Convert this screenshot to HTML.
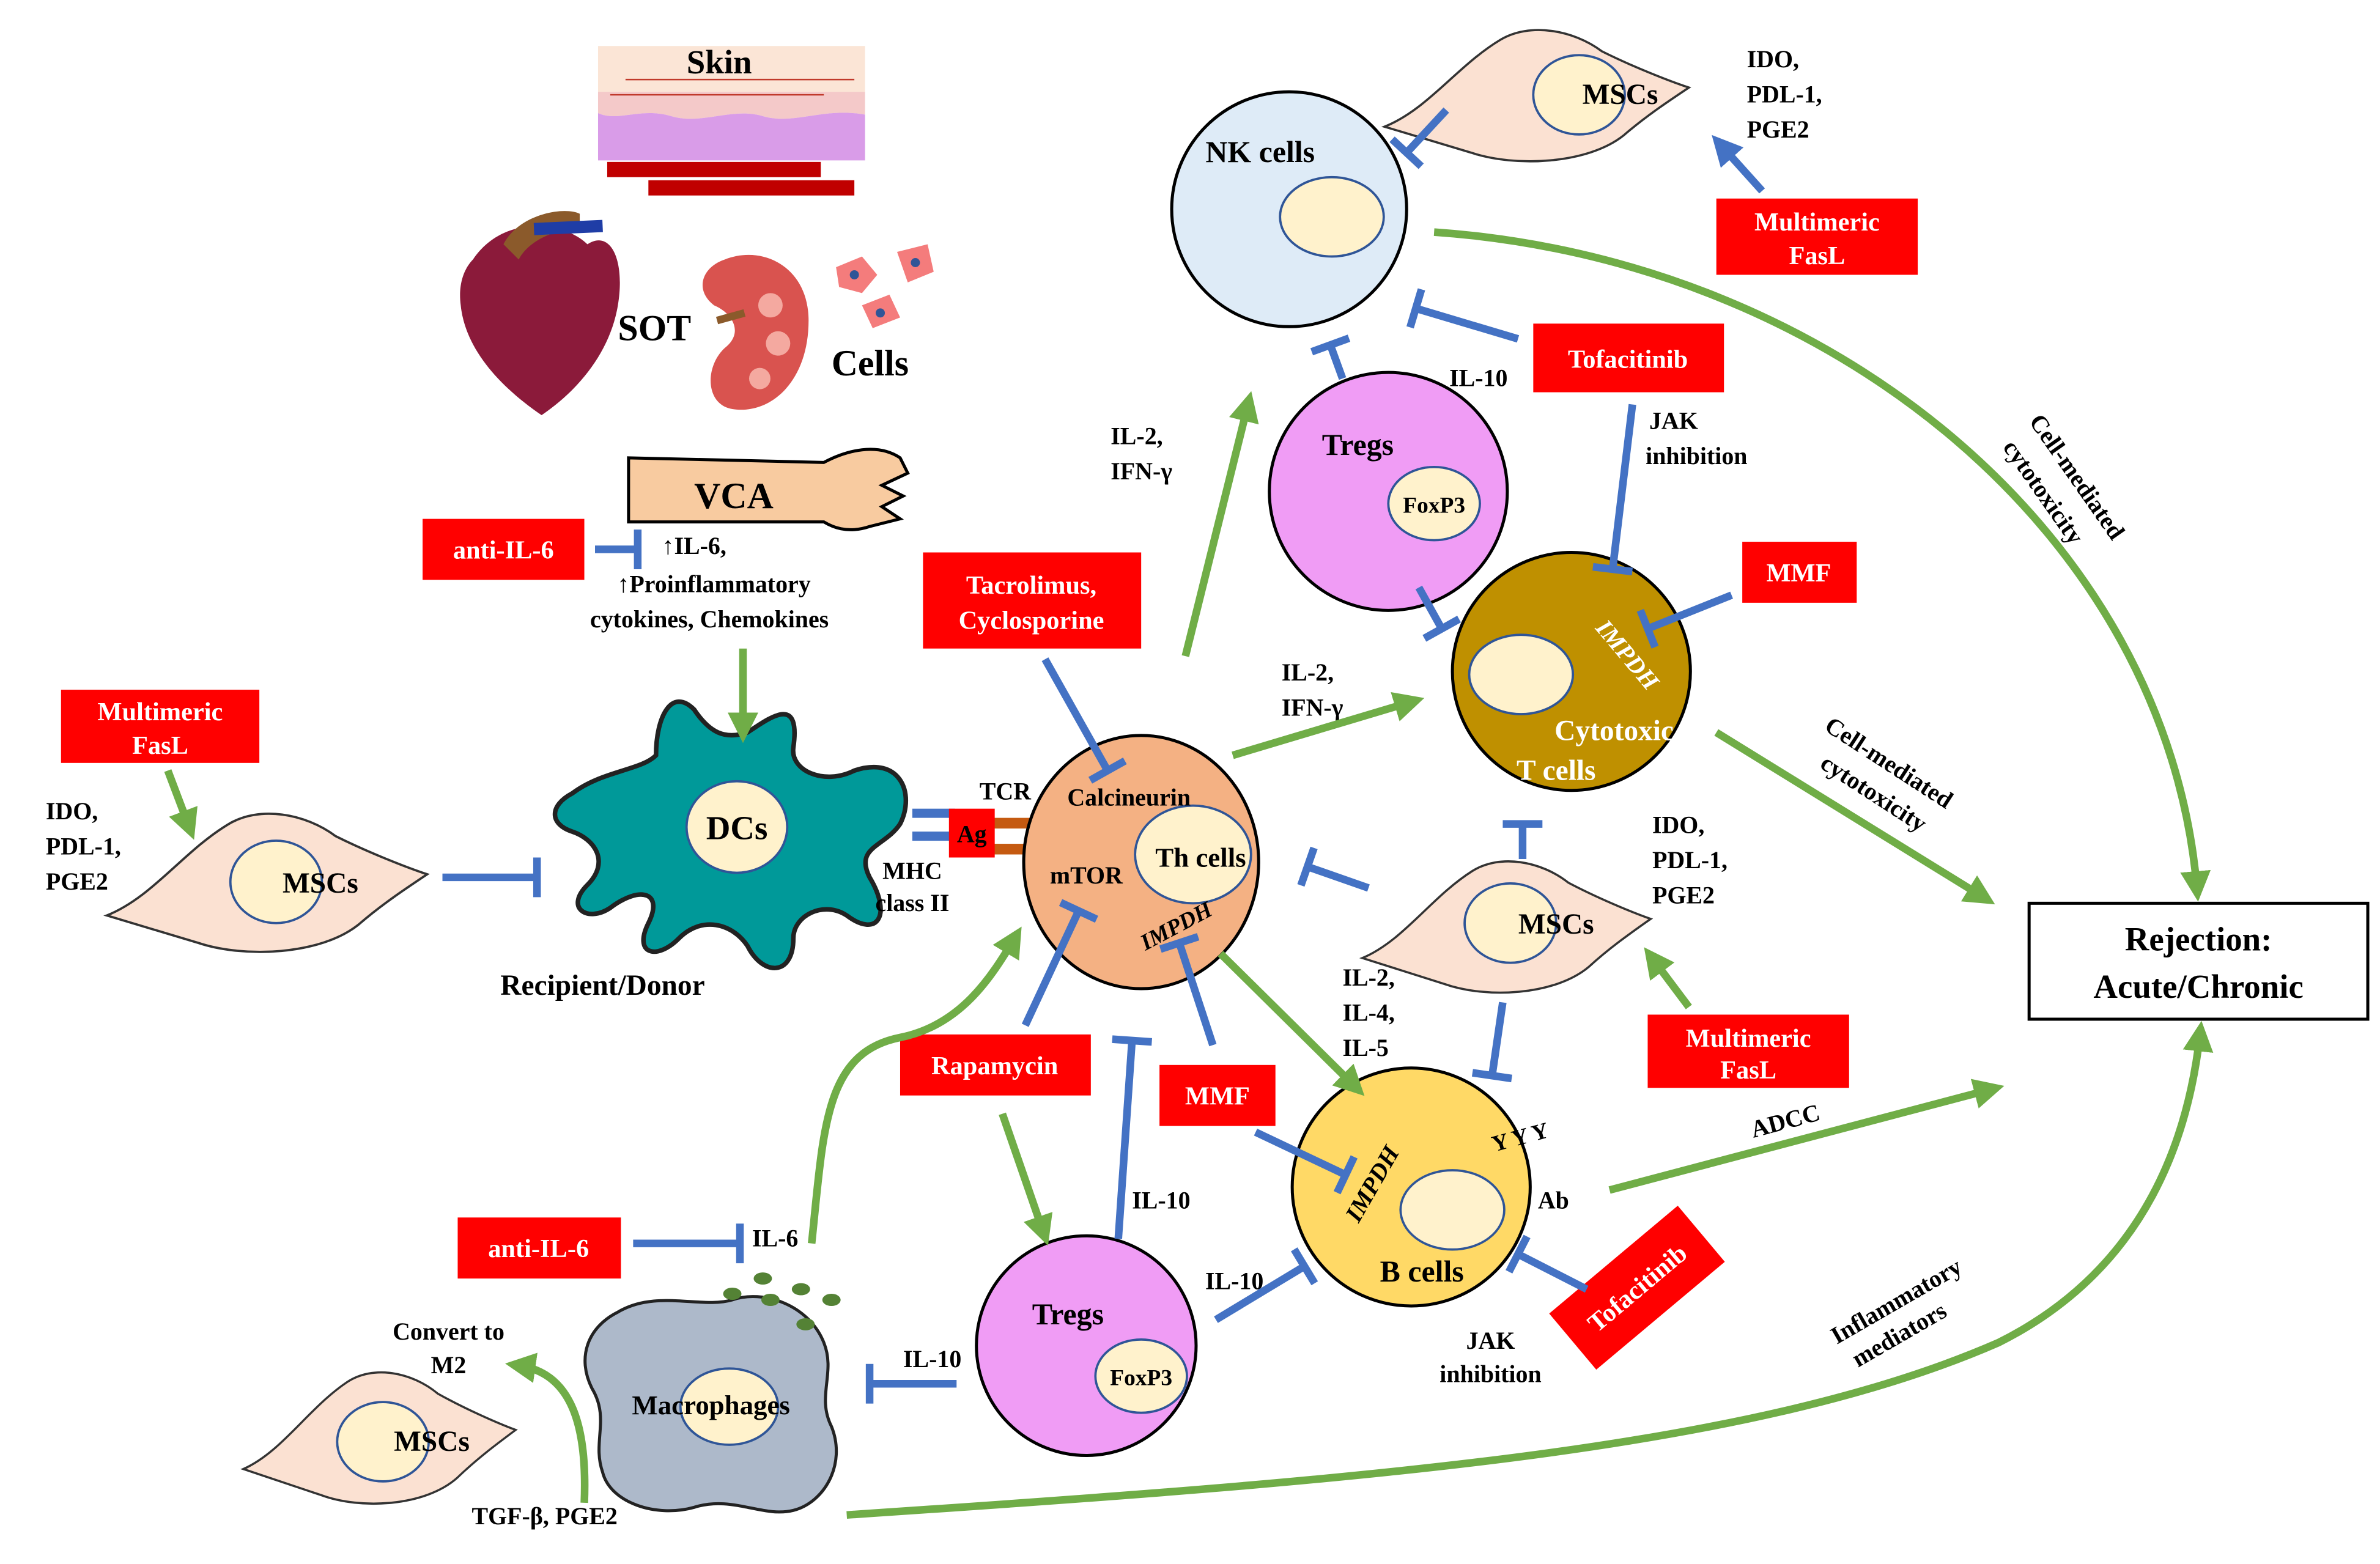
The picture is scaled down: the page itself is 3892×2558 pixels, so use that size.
<!DOCTYPE html>
<html><head><meta charset="utf-8"><style>
html,body{margin:0;padding:0;background:#fff;}
svg{display:block;}
text{font-family:"Liberation Serif",serif;font-weight:bold;fill:#000;}
.w{fill:#fff;}
</style></head><body>
<svg id="s" width="3892" height="2558" viewBox="0 0 1560 1025" xmlns="http://www.w3.org/2000/svg">
<defs>
<marker id="ga" markerWidth="4" markerHeight="4" refX="2.2" refY="2" orient="auto" markerUnits="strokeWidth"><path d="M0,0 L4,2 L0,4 z" fill="#70ad47"/></marker>
<marker id="ba" markerWidth="4" markerHeight="4" refX="2.2" refY="2" orient="auto" markerUnits="strokeWidth"><path d="M0,0 L4,2 L0,4 z" fill="#4472c4"/></marker>
<g id="msc"><path d="M-110,22 C-80,10 -60,-20 -30,-38 C-10,-50 20,-45 40,-30 C60,-20 85,-10 100,-5 C85,5 70,15 55,28 C30,48 -20,50 -50,40 C-70,34 -90,28 -110,22 z" fill="#fbe1d2" stroke="#333" stroke-width="1.5"/></g>
</defs>

<!-- Skin -->
<rect x="392" y="25" width="175" height="103" fill="#fff"/>
<path d="M392,30 L567,30 L567,60 L392,60 z" fill="#fbe5d6"/>
<path d="M392,60 L567,60 L567,75 C540,70 520,82 500,76 C480,70 460,82 440,76 C420,70 405,80 392,74 z" fill="#f4c9c9"/>
<path d="M392,74 C405,80 420,70 440,76 C460,82 480,70 500,76 C520,82 540,70 567,75 L567,105 L392,105 z" fill="#d99ce8"/>
<rect x="398" y="106" width="140" height="10" fill="#c00000"/><rect x="425" y="118" width="135" height="10" fill="#c00000"/>
<line x1="410" y1="52" x2="560" y2="52" stroke="#c0392b" stroke-width="1"/><line x1="400" y1="62" x2="540" y2="62" stroke="#c0392b" stroke-width="1"/>
<text x="450" y="48" font-size="22">Skin</text>
<!-- Heart -->
<path d="M310,170 C330,140 370,145 385,160 C400,150 410,170 405,200 C400,230 380,255 355,272 C330,255 305,230 302,200 C300,185 305,175 310,170 z" fill="#8b1a3a"/>
<path d="M330,160 C340,140 370,135 380,140 L380,150 C360,150 345,160 340,170 z" fill="#8b5a2b"/>
<path d="M350,150 L395,148" stroke="#1f3da6" stroke-width="8"/>
<text x="405" y="223" font-size="24">SOT</text>
<!-- Kidney -->
<path d="M475,170 C500,160 530,175 530,210 C530,250 505,272 480,268 C462,265 462,240 475,228 C488,218 480,205 468,200 C455,190 460,175 475,170 z" fill="#d9534f"/>
<circle cx="505" cy="200" r="8" fill="#f4a9a0"/><circle cx="510" cy="225" r="8" fill="#f4a9a0"/><circle cx="498" cy="248" r="7" fill="#f4a9a0"/>
<path d="M470,210 L488,205" stroke="#8b5a2b" stroke-width="5"/>
<!-- Cells -->
<path d="M548,175 L565,168 L575,180 L565,192 L550,188 z" fill="#f47c7c"/><circle cx="560" cy="180" r="3" fill="#2f5597"/>
<path d="M588,165 L608,160 L612,178 L595,185 z" fill="#f47c7c"/><circle cx="600" cy="172" r="3" fill="#2f5597"/>
<path d="M565,200 L583,193 L590,208 L572,215 z" fill="#f47c7c"/><circle cx="577" cy="205" r="3" fill="#2f5597"/>
<text x="545" y="246" font-size="24">Cells</text>
<!-- VCA arm -->
<path d="M412,300 L540,303 C555,295 575,290 590,300 L595,310 L578,318 L592,325 L578,332 L590,340 L570,345 C555,350 545,345 540,342 L412,342 z" fill="#f8cba0" stroke="#000" stroke-width="2"/>
<text x="455" y="333" font-size="24">VCA</text>

<!-- red boxes -->
<g fill="#ff0000">
<rect x="277" y="340" width="106" height="40"/>
<rect x="40" y="452" width="130" height="48"/>
<rect x="605" y="362" width="143" height="63"/>
<rect x="1005" y="212" width="125" height="45"/>
<rect x="1125" y="130" width="132" height="50"/>
<rect x="1142" y="355" width="75" height="40"/>
<rect x="1080" y="665" width="132" height="48"/>
<rect x="590" y="678" width="125" height="40"/>
<rect x="760" y="698" width="76" height="40"/>
<rect x="300" y="798" width="107" height="40"/>
<rect x="1018" y="820" width="110" height="48" transform="rotate(-40 1073 844)"/>
</g>
<g font-size="17">
<text class="w" x="330" y="366" text-anchor="middle">anti-IL-6</text>
<text class="w" x="105" y="472" text-anchor="middle">Multimeric</text><text class="w" x="105" y="494" text-anchor="middle">FasL</text>
<text class="w" x="676" y="389" text-anchor="middle">Tacrolimus,</text><text class="w" x="676" y="412" text-anchor="middle">Cyclosporine</text>
<text class="w" x="1067" y="241" text-anchor="middle">Tofacitinib</text>
<text class="w" x="1191" y="151" text-anchor="middle">Multimeric</text><text class="w" x="1191" y="173" text-anchor="middle">FasL</text>
<text class="w" x="1179" y="381" text-anchor="middle">MMF</text>
<text class="w" x="1146" y="686" text-anchor="middle">Multimeric</text><text class="w" x="1146" y="707" text-anchor="middle">FasL</text>
<text class="w" x="652" y="704" text-anchor="middle">Rapamycin</text>
<text class="w" x="798" y="724" text-anchor="middle">MMF</text>
<text class="w" x="353" y="824" text-anchor="middle">anti-IL-6</text>
<text class="w" x="1073" y="850" text-anchor="middle" transform="rotate(-40 1073 844)">Tofacitinib</text>
</g>

<!-- DC -->
<path d="M375,520 C395,505 420,505 430,495 C430,470 440,450 455,465 C465,480 475,485 490,480 C505,470 525,455 520,490 C518,505 540,515 560,505 C590,495 600,520 590,540 C580,555 560,555 570,575 C585,600 575,615 555,600 C540,590 520,600 520,615 C520,640 500,640 490,620 C480,605 460,600 445,615 C430,630 415,625 425,605 C435,585 420,580 400,595 C385,605 370,595 385,580 C400,565 390,550 375,545 C360,540 360,528 375,520 z" fill="#009999" stroke="#222" stroke-width="3"/>
<ellipse cx="483" cy="542" rx="33" ry="30" fill="#fff2cc" stroke="#2f5597" stroke-width="1.5"/>
<text x="483" y="550" font-size="22" text-anchor="middle">DCs</text>
<text x="395" y="652" font-size="19" text-anchor="middle">Recipient/Donor</text>
<rect x="598" y="530" width="28" height="6" fill="#4472c4"/><rect x="598" y="545" width="28" height="6" fill="#4472c4"/>
<rect x="650" y="536" width="28" height="7" fill="#c55a11"/><rect x="650" y="553" width="28" height="7" fill="#c55a11"/>
<rect x="622" y="530" width="30" height="32" fill="#ff0000"/>
<text x="637" y="552" font-size="16" text-anchor="middle">Ag</text>
<text x="642" y="524" font-size="16">TCR</text>
<text x="598" y="576" font-size="16" text-anchor="middle">MHC</text><text x="598" y="597" font-size="16" text-anchor="middle">class II</text>

<!-- cells -->
<ellipse cx="748" cy="565" rx="77" ry="83" fill="#f4b183" stroke="#000" stroke-width="2"/>
<ellipse cx="782" cy="560" rx="38" ry="32" fill="#fff2cc" stroke="#2f5597" stroke-width="1.5"/>
<text x="740" y="528" font-size="16" text-anchor="middle">Calcineurin</text>
<text x="787" y="568" font-size="18" text-anchor="middle">Th cells</text>
<text x="712" y="579" font-size="16" text-anchor="middle">mTOR</text>
<text x="770" y="612" font-size="15" text-anchor="middle" font-style="italic" transform="rotate(-28 770 605)">IMPDH</text>

<circle cx="845" cy="137" r="77" fill="#deebf7" stroke="#000" stroke-width="2"/>
<ellipse cx="873" cy="142" rx="34" ry="26" fill="#fff2cc" stroke="#2f5597" stroke-width="1.5"/>
<text x="826" y="106" font-size="20" text-anchor="middle">NK cells</text>

<circle cx="910" cy="322" r="78" fill="#f09cf5" stroke="#000" stroke-width="2"/>
<ellipse cx="940" cy="330" rx="30" ry="24" fill="#fff2cc" stroke="#2f5597" stroke-width="1.5"/>
<text x="890" y="298" font-size="20" text-anchor="middle">Tregs</text>
<text x="940" y="336" font-size="15" text-anchor="middle">FoxP3</text>

<circle cx="1030" cy="440" r="78" fill="#bf9000" stroke="#000" stroke-width="2"/>
<ellipse cx="997" cy="442" rx="34" ry="26" fill="#fff2cc" stroke="#2f5597" stroke-width="1.5"/>
<text class="w" x="1068" y="435" font-size="16" text-anchor="middle" font-style="italic" transform="rotate(50 1068 428)">IMPDH</text>
<text class="w" x="1058" y="485" font-size="19" text-anchor="middle">Cytotoxic</text>
<text class="w" x="1020" y="511" font-size="19" text-anchor="middle">T cells</text>

<circle cx="925" cy="778" r="78" fill="#ffd966" stroke="#000" stroke-width="2"/>
<ellipse cx="952" cy="793" rx="34" ry="26" fill="#fff2cc" stroke="#2f5597" stroke-width="1.5"/>
<text x="898" y="782" font-size="16" text-anchor="middle" font-style="italic" transform="rotate(-60 898 775)">IMPDH</text>
<text x="932" y="840" font-size="20" text-anchor="middle">B cells</text>
<text x="978" y="752" font-size="15" transform="rotate(-15 990 748)">Y Y Y</text>
<text x="1008" y="792" font-size="16">Ab</text>

<circle cx="712" cy="882" r="72" fill="#f09cf5" stroke="#000" stroke-width="2"/>
<ellipse cx="748" cy="902" rx="30" ry="24" fill="#fff2cc" stroke="#2f5597" stroke-width="1.5"/>
<text x="700" y="868" font-size="20" text-anchor="middle">Tregs</text>
<text x="748" y="908" font-size="15" text-anchor="middle">FoxP3</text>

<!-- Macrophage -->
<path d="M405,860 C430,845 460,858 480,852 C500,845 530,855 540,880 C548,900 535,915 545,935 C555,960 540,985 520,990 C500,995 480,980 455,988 C430,995 400,985 395,965 C388,945 400,930 388,910 C378,890 385,870 405,860 z" fill="#adb9ca" stroke="#222" stroke-width="2"/>
<ellipse cx="478" cy="922" rx="32" ry="25" fill="#fff2cc" stroke="#2f5597" stroke-width="1.5"/>
<text x="466" y="927" font-size="18" text-anchor="middle">Macrophages</text>
<g fill="#548235"><ellipse cx="500" cy="838" rx="6" ry="4"/><ellipse cx="525" cy="845" rx="6" ry="4"/><ellipse cx="505" cy="852" rx="6" ry="4"/><ellipse cx="545" cy="852" rx="6" ry="4"/><ellipse cx="480" cy="848" rx="6" ry="4"/><ellipse cx="528" cy="868" rx="6" ry="4"/></g>

<!-- MSCs -->
<use href="#msc" transform="translate(180,578)"/>
<ellipse cx="181" cy="578" rx="30" ry="27" fill="#fff2cc" stroke="#2f5597" stroke-width="1.5"/>
<text x="210" y="585" font-size="19" text-anchor="middle">MSCs</text>
<use href="#msc" transform="translate(1012,62) scale(0.95,0.95)"/>
<ellipse cx="1035" cy="62" rx="30" ry="26" fill="#fff2cc" stroke="#2f5597" stroke-width="1.5"/>
<text x="1062" y="68" font-size="19" text-anchor="middle">MSCs</text>
<use href="#msc" transform="translate(992,607) scale(0.9,0.95)"/>
<ellipse cx="990" cy="605" rx="30" ry="26" fill="#fff2cc" stroke="#2f5597" stroke-width="1.5"/>
<text x="1020" y="612" font-size="19" text-anchor="middle">MSCs</text>
<use href="#msc" transform="translate(253,942) scale(0.85,0.95)"/>
<ellipse cx="251" cy="945" rx="30" ry="26" fill="#fff2cc" stroke="#2f5597" stroke-width="1.5"/>
<text x="283" y="951" font-size="19" text-anchor="middle">MSCs</text>

<!-- Rejection -->
<rect x="1330" y="592" width="222" height="76" fill="#fff" stroke="#000" stroke-width="2"/>
<text x="1441" y="623" font-size="22" text-anchor="middle">Rejection:</text>
<text x="1441" y="654" font-size="22" text-anchor="middle">Acute/Chronic</text>

<!-- labels -->
<g font-size="16">
<text x="455" y="363" text-anchor="middle">↑IL-6,</text>
<text x="468" y="388" text-anchor="middle">↑Proinflammatory</text>
<text x="465" y="411" text-anchor="middle">cytokines, Chemokines</text>
<text x="30" y="537">IDO,</text><text x="30" y="560">PDL-1,</text><text x="30" y="583">PGE2</text>
<text x="1145" y="44">IDO,</text><text x="1145" y="67">PDL-1,</text><text x="1145" y="90">PGE2</text>
<text x="1083" y="546">IDO,</text><text x="1083" y="569">PDL-1,</text><text x="1083" y="592">PGE2</text>
<text x="728" y="291">IL-2,</text><text x="728" y="314">IFN-γ</text>
<text x="840" y="446">IL-2,</text><text x="840" y="469">IFN-γ</text>
<text x="950" y="253">IL-10</text>
<text x="1097" y="281" text-anchor="middle">JAK</text><text x="1112" y="304" text-anchor="middle">inhibition</text>
<text x="880" y="646">IL-2,</text><text x="880" y="669">IL-4,</text><text x="880" y="692">IL-5</text>
<text x="742" y="792">IL-10</text>
<text x="790" y="845">IL-10</text>
<text x="592" y="896">IL-10</text>
<text x="493" y="817">IL-6</text>
<text x="977" y="884" text-anchor="middle">JAK</text><text x="977" y="906" text-anchor="middle">inhibition</text>
<text x="294" y="878" text-anchor="middle">Convert to</text><text x="294" y="900" text-anchor="middle">M2</text>
<text x="357" y="999" text-anchor="middle">TGF-β, PGE2</text>
<text x="1170" y="740" text-anchor="middle" transform="rotate(-15 1170 734)">ADCC</text>
<text x="1238" y="505" text-anchor="middle" transform="rotate(33 1238 500)">Cell-mediated</text>
<text x="1228" y="525" text-anchor="middle" transform="rotate(33 1228 520)">cytotoxicity</text>
<text x="1362" y="318" text-anchor="middle" transform="rotate(55 1362 312)">Cell-mediated</text>
<text x="1340" y="328" text-anchor="middle" transform="rotate(55 1340 322)">cytotoxicity</text>
<text x="1243" y="858" text-anchor="middle" transform="rotate(-30 1243 853)">Inflammatory</text>
<text x="1245" y="880" text-anchor="middle" transform="rotate(-30 1245 875)">mediators</text>
</g>

<!-- green arrows -->
<g stroke="#70ad47" stroke-width="5" fill="none" marker-end="url(#ga)">
<line x1="487" y1="425" x2="487" y2="478"/>
<line x1="110" y1="505" x2="124" y2="542"/>
<line x1="777" y1="430" x2="818" y2="265"/>
<line x1="808" y1="495" x2="925" y2="460"/>
<path d="M940,152 C1200,170 1420,350 1440,582"/>
<line x1="1125" y1="480" x2="1300" y2="588"/>
<line x1="1107" y1="660" x2="1083" y2="628"/>
<line x1="800" y1="625" x2="888" y2="712"/>
<line x1="1055" y1="780" x2="1305" y2="714"/>
<line x1="657" y1="730" x2="684" y2="808"/>
<path d="M532,815 C540,740 540,690 590,680 C630,672 650,640 665,615"/>
<path d="M383,985 C385,935 375,900 340,895"/>
<path d="M555,993 C900,970 1150,950 1310,880 C1410,830 1435,740 1442,678"/>
</g>

<!-- blue inhibitions -->
<g id="inh" stroke="#4472c4" stroke-width="5" fill="none"></g>
<line x1="1155" y1="125" x2="1128" y2="95" stroke="#4472c4" stroke-width="5" marker-end="url(#ba)"/>
</svg>
<script>
var L=[[390,360,418,360],[290,575,352,575],[685,432,726,505],[948,72,922,100],[880,248,872,226],[995,222,928,202],[1070,265,1057,373],[1135,390,1080,412],[930,385,945,412],[998,563,998,540],[897,582,857,568],[985,657,978,705],[672,672,707,597],[795,685,773,618],[823,742,882,770],[733,812,742,682],[797,865,855,830],[627,907,570,907],[415,815,485,815],[1040,845,995,822]];
var g=document.getElementById('inh'),ns='http://www.w3.org/2000/svg';
L.forEach(function(a){var dx=a[2]-a[0],dy=a[3]-a[1],d=Math.hypot(dx,dy),px=-dy/d*13,py=dx/d*13;
var l=document.createElementNS(ns,'line');l.setAttribute('x1',a[0]);l.setAttribute('y1',a[1]);l.setAttribute('x2',a[2]);l.setAttribute('y2',a[3]);g.appendChild(l);
var b=document.createElementNS(ns,'line');b.setAttribute('x1',a[2]+px);b.setAttribute('y1',a[3]+py);b.setAttribute('x2',a[2]-px);b.setAttribute('y2',a[3]-py);g.appendChild(b);});
</script>
</body></html>
